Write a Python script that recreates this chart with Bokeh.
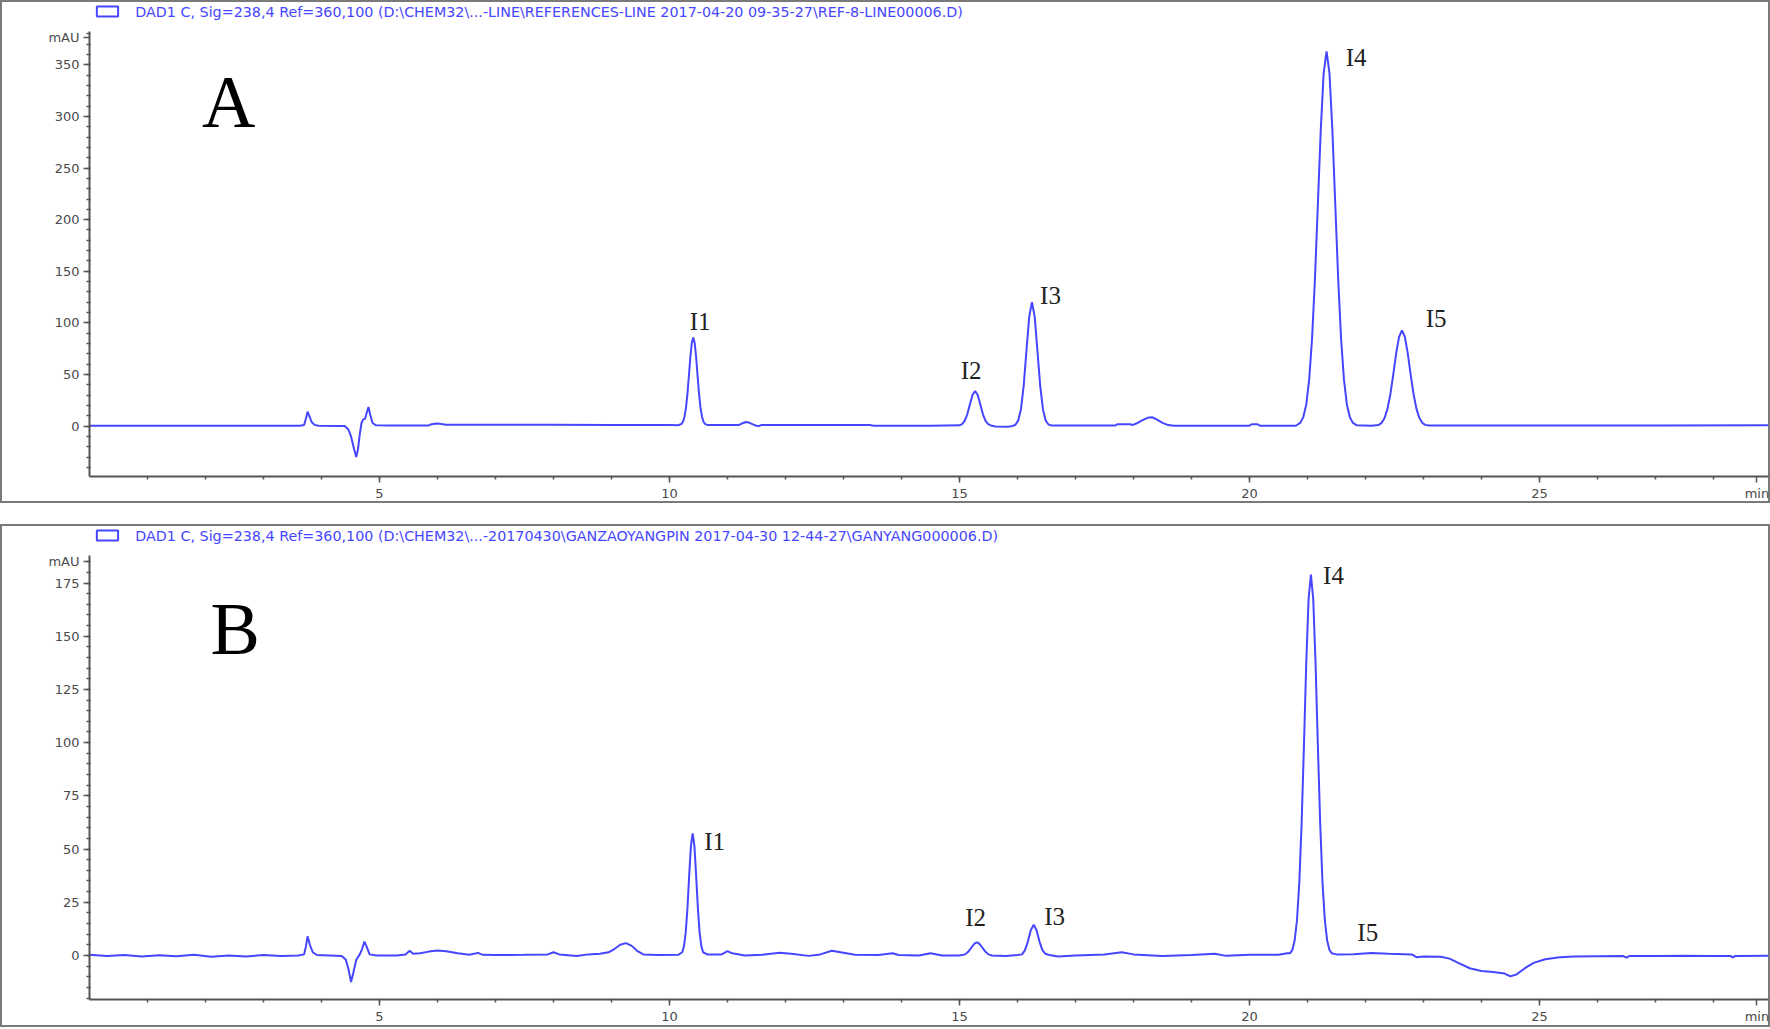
from bokeh.plotting import figure
from bokeh.models import Range1d, FixedTicker, Label
from bokeh.layouts import column
from bokeh.embed import file_html
from bokeh.resources import INLINE
from bokeh.core.properties import value

# ---------------- data ----------------
A_time = [0.0, 1.0, 2.0, 3.0, 3.62, 3.70, 3.73, 3.76, 3.79, 3.83, 3.88, 3.95,
          4.40, 4.46, 4.51, 4.56, 4.60, 4.63, 4.66, 4.69, 4.72, 4.75, 4.78, 4.81, 4.84, 4.88, 4.94, 5.2,
          5.85, 5.88, 5.95, 6.00, 6.07, 6.15, 7.0, 8.0, 9.0, 10.0, 10.15,
          10.21, 10.235, 10.26, 10.285, 10.31, 10.335, 10.36, 10.385, 10.41, 10.435, 10.46, 10.485,
          10.51, 10.535, 10.56, 10.585, 10.61, 10.66,
          11.20, 11.26, 11.32, 11.38, 11.45, 11.50, 11.54, 11.58, 12.5, 13.45, 13.52, 14.5, 15.0,
          15.045, 15.09, 15.135, 15.18, 15.225, 15.27, 15.315, 15.36, 15.405, 15.45, 15.495, 15.54,
          15.62, 15.85, 15.92,
          15.965, 16.0125, 16.06, 16.1075, 16.155, 16.2025, 16.25, 16.2975, 16.345, 16.3925, 16.44,
          16.4875, 16.535, 16.6,
          17.68, 17.72, 17.95, 17.98, 18.05, 18.15, 18.25, 18.32, 18.4, 18.5, 18.6, 18.7, 19.5,
          20.0, 20.04, 20.14, 20.18, 20.8,
          20.88, 20.93, 20.98, 21.03, 21.08, 21.13, 21.18, 21.23, 21.28, 21.33, 21.38, 21.43, 21.48,
          21.53, 21.58, 21.63, 21.68, 21.73, 21.78, 21.85, 22.1,
          22.23, 22.28, 22.33, 22.38, 22.43, 22.48, 22.53, 22.58, 22.63, 22.68, 22.73, 22.78, 22.83,
          22.88, 22.93, 22.98, 23.03, 23.1,
          25.0, 27.0, 28.95]
A_mau = [0.3, 0.3, 0.3, 0.3, 0.3, 1.0, 7, 14, 10, 4, 1.2, 0.3,
         0.2, -3, -10, -22, -30, -22, -8, 3, 6.5, 7, 13, 18.5, 11, 3, 0.8, 0.6,
         0.6, 1.6, 2.3, 2.6, 2.0, 1.4, 1.3, 1.3, 1.2, 1.2, 0.8,
         2.2, 4.5, 9.4, 18, 31.4, 48.6, 66.7, 80.5, 85.8, 80.5, 66.7, 48.6,
         31.4, 18, 9.4, 4.5, 2.2, 1.0,
         1.2, 2.8, 4.0, 3.2, 1.5, 0.3, 0.0, 1.0, 1.0, 1.0, 0.3, 0.3, 0.8,
         2.0, 5.0, 11.4, 20.9, 30.1, 34.1, 30.1, 20.9, 11.4, 5.0, 2.0, 0.7,
         -0.3, -0.5, 0.2,
         1.3, 5.3, 16.2, 39, 72.8, 105.9, 120, 105.9, 72.8, 39, 16.2,
         5.3, 1.6, 0.5,
         0.5, 1.8, 1.8, 1.0, 2.5, 5.5, 8.2, 8.6, 6.5, 3.2, 1.0, 0.3, 0.3,
         0.4, 1.8, 1.8, 0.4, 0.4,
         3.4, 9, 21, 45, 85, 143, 215, 287, 342, 363, 342, 287, 215,
         143, 85, 45, 21, 9, 3.4, 0.8, 0.4,
         1.2, 3.2, 7.9, 16.7, 30.9, 49.9, 70.4, 86.5, 92.6, 86.5, 70.4, 49.9, 30.9,
         16.7, 7.9, 3.2, 1.2, 0.5,
         0.6, 0.7, 0.8]

B_time = [0.0, 0.3, 0.6, 0.9, 1.2, 1.5, 1.8, 2.1, 2.4, 2.7, 3.0, 3.3, 3.6,
          3.70, 3.73, 3.76, 3.80, 3.85, 3.92, 4.35, 4.42, 4.47, 4.51, 4.55, 4.60, 4.66,
          4.70, 4.74, 4.78, 4.83, 4.95, 5.3, 5.45, 5.52, 5.58, 5.70, 5.85, 6.0, 6.15,
          6.35, 6.55, 6.70, 6.78, 7.0, 7.5, 7.9, 8.0, 8.1, 8.4, 8.6, 8.8, 8.95, 9.05,
          9.15, 9.25, 9.35, 9.45, 9.55, 9.8, 10.15,
          10.22, 10.25, 10.28, 10.31, 10.34, 10.37, 10.40, 10.43, 10.46, 10.49, 10.52,
          10.55, 10.58, 10.65,
          10.9, 11.0, 11.08, 11.3, 11.6, 11.9, 12.1, 12.4, 12.6, 12.8, 12.95, 13.2, 13.6,
          13.85, 13.95, 14.3, 14.5, 14.7, 15.0,
          15.1, 15.16, 15.22, 15.26, 15.3, 15.34, 15.38, 15.44, 15.5, 15.56, 15.8, 16.0,
          16.08, 16.13, 16.18, 16.23, 16.28, 16.33, 16.38, 16.43, 16.48, 16.55,
          16.7, 17.0, 17.5, 17.8, 18.0, 18.5, 19.0, 19.4, 19.6, 20.0, 20.5, 20.65,
          20.70, 20.74, 20.78, 20.82, 20.86, 20.90, 20.94, 20.98, 21.02, 21.06, 21.10,
          21.14, 21.18, 21.22, 21.26, 21.30, 21.34, 21.38, 21.42, 21.50,
          21.8, 22.1, 22.4, 22.8, 22.88, 23.0, 23.3, 23.45, 23.6, 23.8, 24.0, 24.2, 24.4,
          24.5, 24.6, 24.75, 24.9, 25.1, 25.35, 25.6, 26.0, 26.45, 26.5, 26.55, 27.0,
          27.5, 28.0, 28.3, 28.33, 28.37, 28.95]
B_mau = [0.3, -0.3, 0.2, -0.5, 0.1, -0.4, 0.3, -0.6, 0.0, -0.5, 0.2, -0.3, 0.0,
         0.5, 4, 9, 5, 1.5, 0.2, -0.3, -2, -7, -12.5, -8, -2, 0.5,
         3, 6.5, 4, 0.5, 0, 0, 0.5, 2.2, 0.8, 1, 1.8, 2.3, 2.0,
         1.0, 0.3, 1.2, 0.3, 0.2, 0.3, 0.5, 1.5, 0.5, -0.3, 0.5, 0.8, 1.5, 3,
         5, 5.8, 4.5, 2, 0.5, 0.2, 0.3,
         1.5, 4.3, 10.7, 22.1, 37.5, 51.5, 57.3, 51.5, 37.5, 22.1, 10.7,
         4.3, 1.5, 0.5,
         0.5, 2, 1, 0, 0.3, 1.3, 0.8, -0.2, 0.5, 2.2, 1.5, 0.3, 0.2,
         1.0, 0.2, 0, 1, 0, 0,
         0.5, 2.0, 4.2, 5.6, 6.1, 5.6, 4.2, 2.0, 0.5, 0, -0.3, 0.2,
         0.5, 2.5, 6.5, 11.8, 14.4, 11.8, 6.5, 2.5, 0.8, 0.2,
         -0.5, 0, 0.5, 1.5, 0.5, -0.3, 0.2, 0.8, -0.2, 0.3, 0.3, 1.0,
         1.0, 2.6, 7.0, 16.6, 34.2, 62.1, 98.6, 137.5, 167.5, 179, 167.5,
         137.5, 98.6, 62.1, 34.2, 16.6, 7.0, 2.6, 1.0, 0.5,
         0.6, 1.2, 0.8, 0.5, -0.8, -0.5, -0.6, -1.5, -3.5, -6, -7.3, -7.8, -8.5,
         -9.8, -9, -6, -3.5, -1.8, -0.8, -0.5, -0.4, -0.3, -1, -0.3, -0.3,
         -0.2, -0.3, -0.3, -1.0, -0.3, -0.2]

peak_names = ["I1", "I2", "I3", "I4", "I5"]
A_label_x = [10.53, 15.20, 16.57, 21.84, 23.22]
A_label_y = [101, 54, 127, 357.5, 104]
B_label_x = [10.78, 15.28, 16.64, 21.45, 22.04]
B_label_y = [53.6, 17.6, 18.3, 178.5, 10.6]

A_yticks = [0, 50, 100, 150, 200, 250, 300, 350]
B_yticks = [0, 25, 50, 75, 100, 125, 150, 175]
x_ticks = [5, 10, 15, 20, 25]
x_minor = list(range(1, 29))
x_unit = "min"
y_unit = "mAU"

A_header = r"DAD1 C, Sig=238,4 Ref=360,100 (D:\CHEM32\...-LINE\REFERENCES-LINE 2017-04-20 09-35-27\REF-8-LINE00006.D)"
B_header = r"DAD1 C, Sig=238,4 Ref=360,100 (D:\CHEM32\...-20170430\GANZAOYANGPIN 2017-04-30 12-44-27\GANYANG000006.D)"

XEND = 28.95
MIN_TICK = 28.75
BLUE = "#4646ff"
AXC = "#555555"
TICKC = "#4a4a4a"
TFONT = "DejaVu Sans"


def panel(time, mau, ys, ye, axis_top, yticks, yminor, unit_tick, h, bottom,
          header, header_y, letter, letter_x, letter_y, lab_x, lab_y):
    p = figure(width=1770, height=h, x_range=Range1d(0, XEND), y_range=Range1d(ys, ye),
               output_backend="svg", toolbar_location=None,
               min_border_left=89, min_border_right=2, min_border_top=0,
               min_border_bottom=bottom,
               styles={"background-color": "white",
                       "outline": "2px solid #7a7a7a", "outline-offset": "-2px"})
    p.background_fill_color = None
    p.border_fill_color = None
    p.outline_line_color = None
    p.xgrid.visible = False
    p.ygrid.visible = False

    p.line(time, mau, line_color=BLUE, line_width=2)

    for ax in (p.xaxis, p.yaxis):
        ax.axis_line_color = AXC
        ax.axis_line_width = 2
        ax.major_tick_line_color = AXC
        ax.major_tick_line_width = 1.5
        ax.minor_tick_line_color = AXC
        ax.minor_tick_line_width = 1.5
        ax.major_label_text_font = TFONT
        ax.major_label_text_font_size = "13px"
        ax.major_label_text_color = TICKC
    p.xaxis.ticker = FixedTicker(ticks=x_ticks + [MIN_TICK], minor_ticks=x_minor)
    p.xaxis.major_label_overrides = {MIN_TICK: x_unit}
    p.xaxis.major_tick_in = 0
    p.xaxis.major_tick_out = 6
    p.xaxis.minor_tick_in = 0
    p.xaxis.minor_tick_out = 3
    p.xaxis.major_label_standoff = 3

    p.yaxis.bounds = (ys, axis_top)
    p.yaxis.ticker = FixedTicker(ticks=yticks + [unit_tick], minor_ticks=yminor)
    p.yaxis.major_label_overrides = {unit_tick: y_unit}
    p.yaxis.major_tick_in = 0
    p.yaxis.major_tick_out = 6
    p.yaxis.minor_tick_in = 1
    p.yaxis.minor_tick_out = 3
    p.yaxis.major_label_standoff = 4

    # header (legend-like box + text)
    p.add_layout(Label(x=0.31, y=header_y, text="\u2003\u2003\u2002", text_font_size="8.5px",
                       text_align="center", text_baseline="middle",
                       border_line_color=BLUE, border_line_width=2,
                       background_fill_color=None))
    p.add_layout(Label(x=0.79, y=header_y, text=header, text_font=TFONT,
                       text_font_size="14.3px", text_color=BLUE,
                       text_align="left", text_baseline="middle"))
    p.add_layout(Label(x=letter_x, y=letter_y, text=letter, text_font="Liberation Serif",
                       text_font_size="74px", text_color="black",
                       text_align="center", text_baseline="middle"))
    p.text(x=lab_x, y=lab_y, text=peak_names, text_font=value("Liberation Serif"),
           text_font_size="25px", text_color="#222222",
           text_align="center", text_baseline="middle")
    return p


pA = panel(A_time, A_mau, -48.8, 412.3, 382, A_yticks, list(range(-40, 382, 10)), 376,
           503, 27, A_header, 401.6, "A", 2.4, 314.4, A_label_x, A_label_y)
pB = panel(B_time, B_mau, -20.7, 202.5, 188, B_yticks, list(range(-20, 188, 5)), 185,
           503, 28, B_header, 197.3, "B", 2.51, 153.3, B_label_x, B_label_y)

layout = column(pA, pB, spacing=21)
open("out.html", "w").write(file_html(layout, INLINE))
